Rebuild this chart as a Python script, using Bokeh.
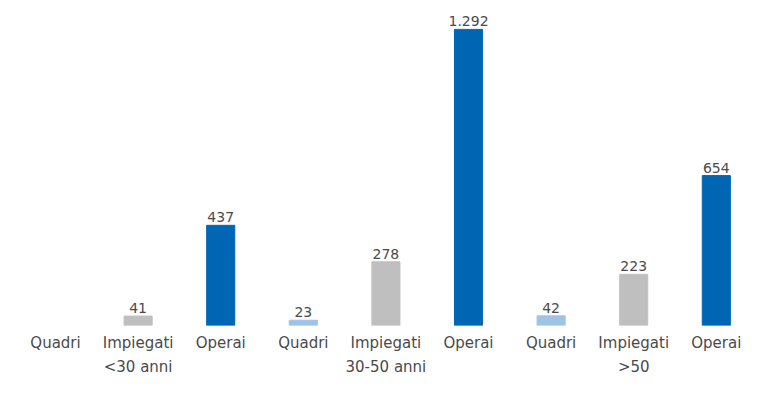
from bokeh.plotting import figure
from bokeh.models import ColumnDataSource, Range1d, LinearAxis, FixedTicker, LabelSet
from bokeh.core.properties import value
from bokeh.embed import file_html
from bokeh.resources import INLINE

groups = ["<30 anni", "30-50 anni", ">50"]
roles = ["Quadri", "Impiegati", "Operai"]
quadri = [0, 23, 42]
impiegati = [41, 278, 223]
operai = [437, 1292, 654]
colors = {"Quadri": "#9DC3E6", "Impiegati": "#BFBFBF", "Operai": "#0066B3"}

xs, tops, cols, labels, cats = [], [], [], [], []
series = {"Quadri": quadri, "Impiegati": impiegati, "Operai": operai}
for gi, g in enumerate(groups):
    for ri, r in enumerate(roles):
        v = series[r][gi]
        cats.append(r)
        if v > 0:
            xs.append(gi * 3 + ri)
            tops.append(v)
            cols.append(colors[r])
            labels.append(f"{v:,}".replace(",", "."))

ticks = list(range(len(groups) * len(roles)))
src = ColumnDataSource(dict(x=xs, top=tops, color=cols, label=labels))

FONT = "DejaVu Sans"
TXT = "#4A4A4A"

p = figure(width=741, height=378, output_backend="svg", toolbar_location=None,
           x_range=Range1d(-0.666, 8.305), y_range=Range1d(0, 1418),
           x_axis_type=None, y_axis_type=None,
           min_border_top=0, min_border_left=0, min_border_right=0, min_border_bottom=0)
p.outline_line_color = None
p.grid.visible = False
p.background_fill_color = "white"
p.border_fill_color = "white"

p.vbar(x="x", top="top", width=0.34, color="color", source=src)

ls = LabelSet(x="x", y="top", text="label", source=src, text_align="center",
              text_baseline="bottom", y_offset=3, text_font_size="14px",
              text_color=TXT, text_font=value(FONT))
p.add_layout(ls)

ax1 = LinearAxis(ticker=FixedTicker(ticks=ticks),
                 major_label_overrides={x: c for x, c in zip(ticks, cats)})
ax2 = LinearAxis(ticker=FixedTicker(ticks=[gi * 3 + 1 for gi in range(len(groups))]),
                 major_label_overrides={gi * 3 + 1: g for gi, g in enumerate(groups)})
for ax, st in ((ax1, 8), (ax2, 3)):
    ax.axis_line_color = None
    ax.major_tick_line_color = None
    ax.minor_tick_line_color = None
    ax.major_tick_out = 0
    ax.major_tick_in = 0
    ax.major_label_standoff = st
    ax.major_label_text_font = FONT
    ax.major_label_text_font_size = "15px"
    ax.major_label_text_color = TXT
    p.add_layout(ax, "below")

open("out.html", "w").write(file_html(p, INLINE))
